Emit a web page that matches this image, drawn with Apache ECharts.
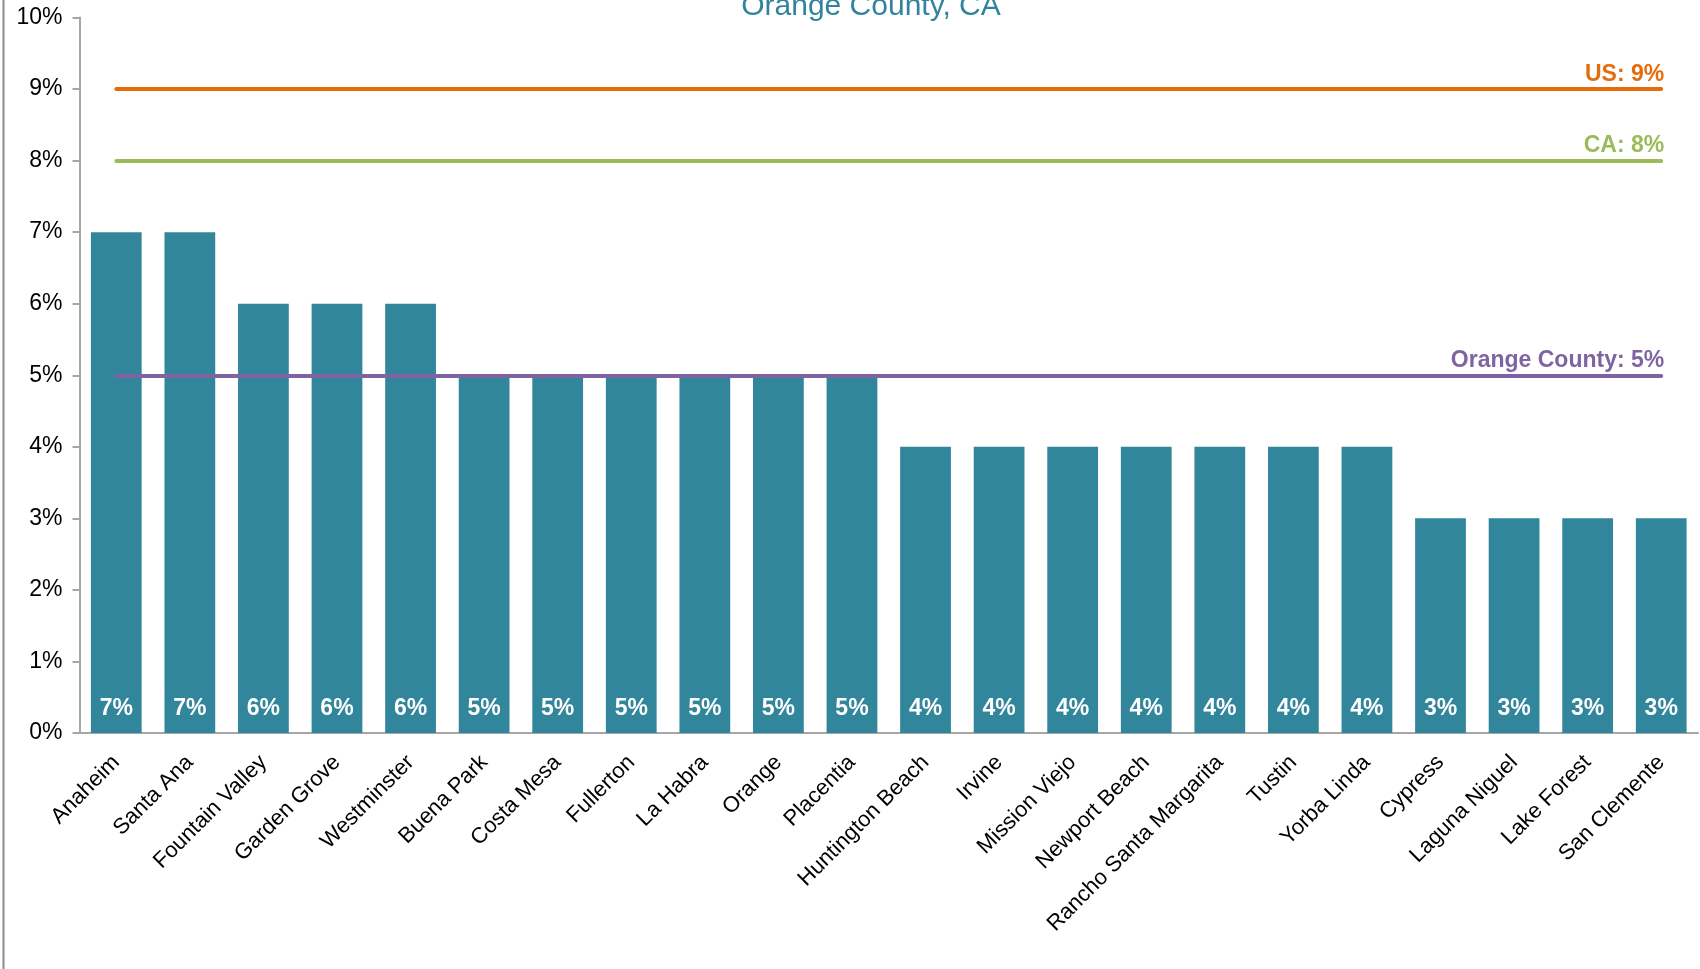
<!DOCTYPE html>
<html>
<head>
<meta charset="utf-8">
<title>Orange County, CA</title>
<script src="https://cdn.jsdelivr.net/npm/echarts@6/dist/echarts.min.js"></script>
<style>
  html, body { margin: 0; padding: 0; background: #fff; }
  #main { width: 1700px; height: 969px; }
</style>
</head>
<body>
<div id="main"></div>
<script>
// cities, sorted by rate
const cities = [
  'Anaheim', 'Santa Ana', 'Fountain Valley', 'Garden Grove', 'Westminster',
  'Buena Park', 'Costa Mesa', 'Fullerton', 'La Habra', 'Orange', 'Placentia',
  'Huntington Beach', 'Irvine', 'Mission Viejo', 'Newport Beach',
  'Rancho Santa Margarita', 'Tustin', 'Yorba Linda', 'Cypress',
  'Laguna Niguel', 'Lake Forest', 'San Clemente'
]
const rates = [7, 7, 6, 6, 6, 5, 5, 5, 5, 5, 5, 4, 4, 4, 4, 4, 4, 4, 3, 3, 3, 3]

// benchmark lines
const refNames = ['US', 'CA', 'Orange County']
const refValues = [9, 8, 5]
const refColors = ['#E46C0A', '#9BBB59', '#8064A2']

const yTicks = { min: 0, max: 10, step: 1 }

const narrow = '"Liberation Sans Narrow", "Arial Narrow", "Liberation Sans", Arial, sans-serif'
const sans = '"Liberation Sans", Arial, sans-serif'

var refLines = refNames.map(function(name, i) {
  return [
    {
      name: name + ': ' + refValues[i] + '%',
      coord: [0, refValues[i]],
      lineStyle: { color: refColors[i] },
      label: { color: refColors[i] }
    },
    { coord: [cities.length - 1, refValues[i]] }
  ]
})

var chartDom = document.getElementById('main')
var myChart = echarts.init(chartDom, null, { renderer: 'canvas' })

var option = {
  animation: false,
  backgroundColor: '#fff',
  title: {
    text: 'Orange County, CA',
    left: 866,
    textAlign: 'center',
    top: -13,
    textStyle: {
      fontFamily: sans,
      fontSize: 30,
      fontWeight: 'normal',
      color: '#31849B'
    }
  },
  graphic: [
    {
      type: 'line',
      shape: { x1: 3.5, y1: 0, x2: 3.5, y2: 969 },
      style: { stroke: '#8C8C8C', lineWidth: 2 }
    }
  ],
  grid: {
    left: 79.5,
    right: 2,
    top: 17.5,
    bottom: 236,
    outerBoundsMode: 'none'
  },
  xAxis: {
    type: 'category',
    data: cities,
    axisLine: { lineStyle: { color: '#A6A6A6', width: 2 } },
    axisTick: { length: 7, lineStyle: { color: '#A6A6A6', width: 2 } },
    axisLabel: {
      rotate: 45,
      margin: 26,
      interval: 0,
      fontFamily: sans,
      fontSize: 22,
      color: '#000'
    }
  },
  yAxis: {
    type: 'value',
    min: yTicks.min,
    max: yTicks.max,
    interval: yTicks.step,
    splitLine: { show: false },
    axisLine: { show: true, lineStyle: { color: '#A6A6A6', width: 2 } },
    axisTick: { show: true, length: 7, lineStyle: { color: '#A6A6A6', width: 2 } },
    axisLabel: {
      formatter: '{value}%',
      margin: 17,
      fontFamily: sans,
      fontSize: 23,
      color: '#000'
    }
  },
  series: [
    {
      type: 'bar',
      data: rates,
      barWidth: '69%',
      itemStyle: { color: '#31869B' },
      label: {
        show: true,
        position: 'insideBottom',
        distance: 13,
        formatter: '{c}%',
        fontFamily: narrow,
        fontSize: 23,
        fontWeight: 'bold',
        color: '#fff'
      },
      markLine: {
        silent: true,
        symbol: 'none',
        z: 5,
        lineStyle: { type: 'solid', width: 4, cap: 'round' },
        label: {
          show: true,
          position: 'insideEndTop',
          formatter: '{b}',
          distance: [-3, 3],
          fontFamily: narrow,
          fontSize: 23,
          fontWeight: 'bold'
        },
        data: refLines
      }
    }
  ]
}

myChart.setOption(option)
</script>
</body>
</html>
